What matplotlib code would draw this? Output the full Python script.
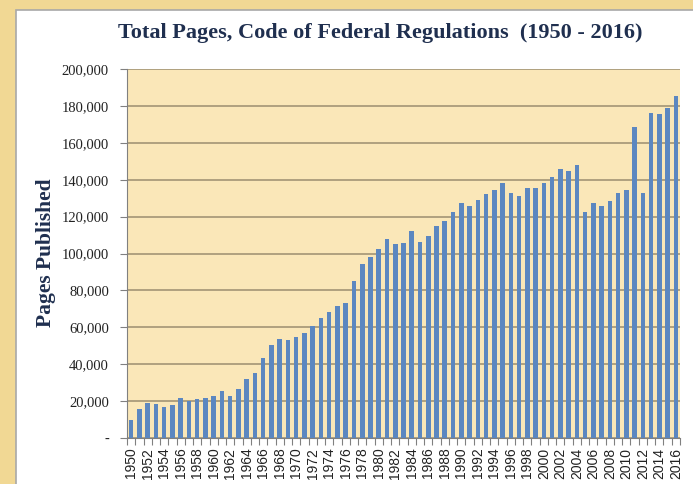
import numpy as np
import matplotlib.pyplot as plt
from matplotlib.patches import Rectangle

years = list(range(1950, 2017))
pages = [9600, 15900, 19000, 18500, 16700, 17800, 21700, 20100, 21000, 21700,
         23000, 25500, 23000, 26300, 32000, 35100, 43600, 50500, 53800, 53200,
         54900, 56900, 60500, 65200, 68100, 71700, 73000, 85200, 94100, 98100,
         102300, 107600, 105000, 105600, 112100, 106400, 109600, 114700, 117800, 122300,
         127300, 125500, 128800, 132400, 134500, 138400, 132600, 131400, 135300, 135300,
         138400, 141700, 145700, 144700, 148000, 122500, 127500, 125700, 128600, 132600,
         134400, 168500, 132600, 176300, 175500, 178800, 185200]
ytick_vals = list(range(0, 200001, 20000))
ytick_labels = ['-'] + ['{:,}'.format(v) for v in ytick_vals[1:]]

fig = plt.figure(figsize=(6.93, 4.84), dpi=100, facecolor='#f1d894')
# white card with grey border
card = Rectangle((16 / 693, -0.01), 1.0, 1 - 10 / 484 + 0.01, transform=fig.transFigure,
                 facecolor='white', edgecolor='#a8a8a8', linewidth=1.2, zorder=-1)
fig.patches.append(card)

ax = fig.add_axes([127 / 693, 1 - 438 / 484, (680 - 127) / 693, (438 - 69) / 484])
ax.set_facecolor('#fae7b8')

x = np.arange(len(years))
ax.bar(x, pages, width=0.55, color='#5c87c0', zorder=3)

ax.set_xlim(-0.5, len(years) - 0.5)
ax.set_ylim(0, 200000)
ax.set_yticks(ytick_vals)
ax.set_yticklabels(ytick_labels, family='Liberation Serif', fontsize=10.5, color='#222222')
ax.yaxis.grid(True, color='#9c8e70', linewidth=1.1, zorder=1)
ax.set_axisbelow(True)

ax.set_xticks(x[::2])
ax.set_xticklabels([str(y) for y in years[::2]], rotation=90, family='Liberation Sans',
                   fontsize=10, color='#222222')
ax.set_xticks(np.arange(-0.5, len(years), 1.0), minor=True)
ax.tick_params(axis='x', which='major', length=0, pad=7)
ax.tick_params(axis='x', which='minor', length=5, color='#808080', width=0.8)
ax.tick_params(axis='y', length=5, color='#808080', width=0.8, pad=8)

for s in ['top', 'right']:
    ax.spines[s].set_visible(False)
ax.spines['left'].set_color('#808080')
ax.spines['bottom'].set_color('#808080')

fig.text(380 / 693, 1 - 33 / 484, 'Total Pages, Code of Federal Regulations  (1950 - 2016)',
         ha='center', va='center', family='Liberation Serif', fontweight='bold',
         fontsize=16, color='#1f2f4f')
fig.text(46 / 693, 1 - 253 / 484, 'Pages Published', rotation=90, ha='center', va='center',
         family='Liberation Serif', fontweight='bold', fontsize=15.5, color='#1f2f4f')

fig.savefig('out.png', dpi=100, facecolor=fig.get_facecolor())
